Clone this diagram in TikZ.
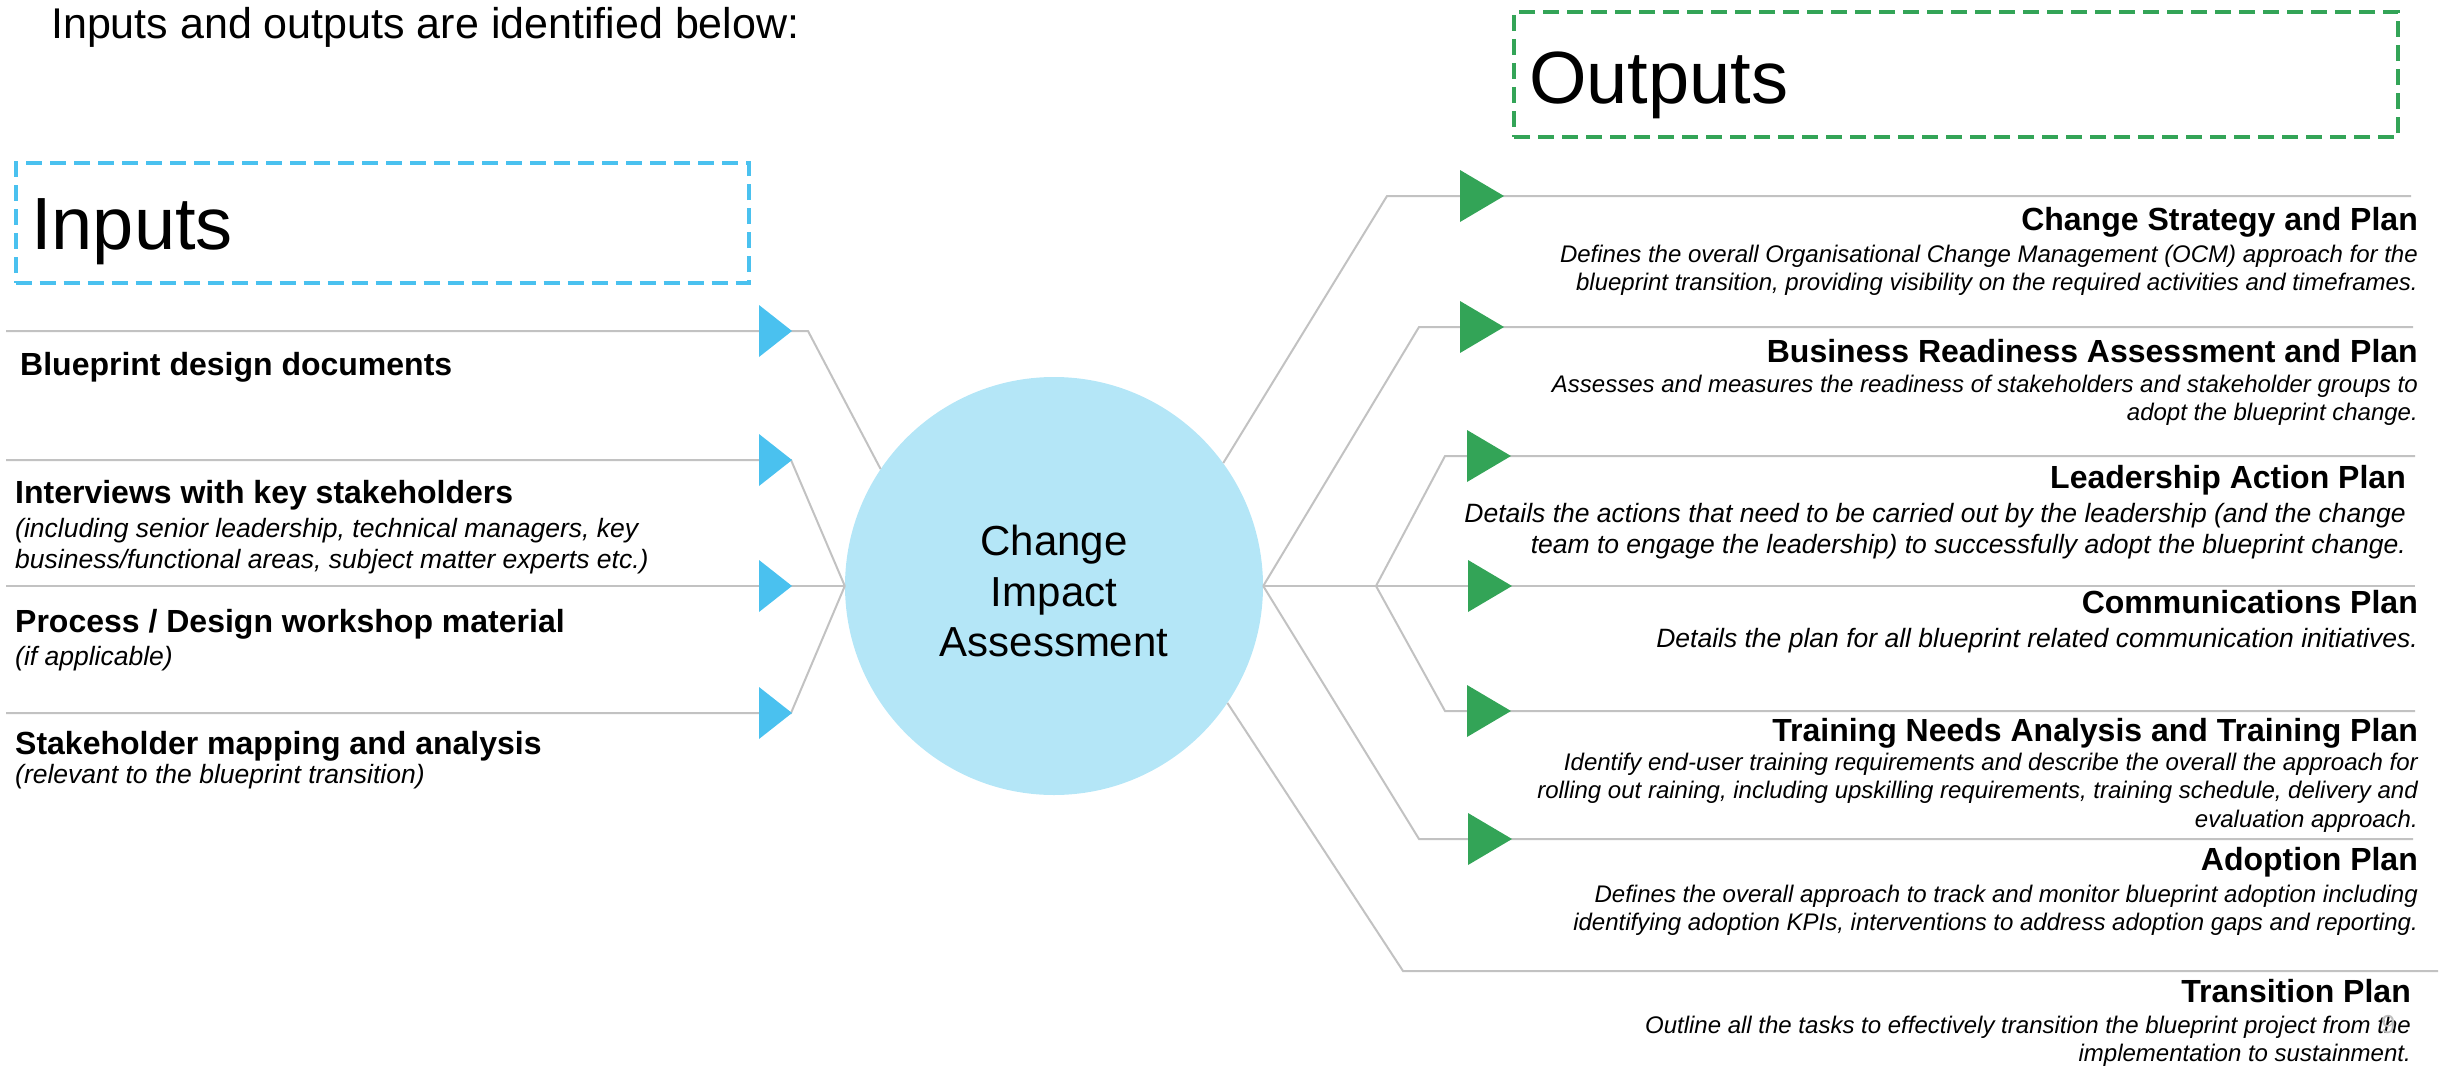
\documentclass[tikz,border=0pt]{standalone}
\usepackage{fontspec}
\setmainfont{Liberation Sans}
\definecolor{inblue}{HTML}{4AC1EF}
\definecolor{circfill}{HTML}{B4E6F7}
\definecolor{outgreen}{HTML}{33A457}
\definecolor{linegray}{HTML}{C2C2C2}
\begin{document}
\begin{tikzpicture}[x=1pt,y=-1pt,
  conn/.style={draw=linegray, line width=2pt},
  dashbox/.style={line width=4pt, dash pattern=on 16pt off 8pt, inner sep=0pt, anchor=north west},
  headL/.style={inner sep=0pt, anchor=base west, font=\fontsize{32}{36}\selectfont\bfseries},
  headR/.style={inner sep=0pt, anchor=base east, font=\fontsize{32}{36}\selectfont\bfseries},
  descL/.style={inner sep=0pt, anchor=base west, font=\fontsize{26.5}{31}\selectfont\itshape},
  descR/.style={inner sep=0pt, anchor=base east, font=\fontsize{24}{28.5}\selectfont\itshape},
  descRl/.style={inner sep=0pt, anchor=base east, font=\fontsize{26.5}{31}\selectfont\itshape},
  bigtitle/.style={inner sep=0pt, anchor=base west, font=\fontsize{74}{80}\selectfont}
]
\useasboundingbox (0,0) rectangle (2443,1065);

% heading line
\node[inner sep=0pt, anchor=base west, font=\fontsize{43}{50}\selectfont] (title) at (51,39)
  {Inputs and outputs are identified below:};

% dashed group boxes
\node[dashbox, draw=inblue, minimum width=733pt, minimum height=120pt] (inbox) at (13.5,161) {};
\node[bigtitle] (intitle) at (31,249) {Inputs};
\node[dashbox, draw=outgreen, minimum width=884pt, minimum height=125pt] (outbox) at (1512,10) {};
\node[bigtitle] (outtitle) at (1529,103) {Outputs};

% central circle
\node[circle, fill=circfill, minimum size=418pt, inner sep=0pt] (cia) at (1054,586) {};
\node[inner sep=0pt, align=center, font=\fontsize{42}{50.5}\selectfont]
  (ciatext) at ([yshift=-5pt]cia.center) {Change\\Impact\\Assessment};

% input connectors
\coordinate (a1) at (6,331);  \coordinate (a1k) at (808,331);
\coordinate (a2) at (6,460);  \coordinate (a2k) at (791,460);
\coordinate (a3) at (6,586);
\coordinate (a4) at (6,713);  \coordinate (a4k) at (791,713);
\draw[conn] (a1) -- (a1k) -- (cia.146.8);
\draw[conn] (a2) -- (a2k) -- (cia.west);
\draw[conn] (a3) -- (cia.west);
\draw[conn] (a4) -- (a4k) -- (cia.west);

% output connectors
\coordinate (hub) at (1376,586);
\coordinate (b1k) at (1387,196); \coordinate (b1) at (2411,196);
\coordinate (b2k) at (1419,327); \coordinate (b2) at (2413,327);
\coordinate (b3k) at (1445,456); \coordinate (b3) at (2415,456);
\coordinate (b4) at (2415,586);
\coordinate (b5k) at (1445,711); \coordinate (b5) at (2415,711);
\coordinate (b6k) at (1419,839); \coordinate (b6) at (2413,839);
\coordinate (b7k) at (1403,971); \coordinate (b7) at (2438,971);
\draw[conn] (cia.36.5) -- (b1k) -- (b1);
\draw[conn] (cia.east) -- (b2k) -- (b2);
\draw[conn] (hub) -- (b3k) -- (b3);
\draw[conn] (cia.east) -- (b4);
\draw[conn] (hub) -- (b5k) -- (b5);
\draw[conn] (cia.east) -- (b6k) -- (b6);
\draw[conn] (cia.-34.1) -- (b7k) -- (b7);

% arrow markers
\foreach \ty in {305,434,560,687}
  \fill[inblue] (759,\ty) -- ++(33,26) -- ++(-33,26) -- cycle;
\foreach \tx/\ty in {1460/170,1460/301,1467/430,1468/560,1467/685,1468/813}
  \fill[outgreen] (\tx,\ty) -- ++(44,26) -- ++(-44,26) -- cycle;

% inputs
\node[headL] (in1) at (20,375) {Blueprint design documents};
\node[headL] (in2) at (15,503) {Interviews with key stakeholders};
\node[descL] (in2d) at (15,537) {\parbox[t]{660pt}{(including senior leadership, technical managers, key\\business/functional areas, subject matter experts etc.)}};
\node[headL] (in3) at (15,632) {Process / Design workshop material};
\node[descL] (in3d) at (15,665) {(if applicable)};
\node[headL] (in4) at (15,754) {Stakeholder mapping and analysis};
\node[descL] (in4d) at (15,783) {(relevant to the blueprint transition)};

% outputs
\node[headR] (out1) at (2418,230) {Change Strategy and Plan};
\node[descR] (out1d) at (2418,262) {\parbox[t]{880pt}{\raggedleft Defines the overall Organisational Change Management (OCM) approach for the\\blueprint transition, providing visibility on the required activities and timeframes.}};

\node[headR] (out2) at (2418,362) {Business Readiness Assessment and Plan};
\node[descR] (out2d) at (2418,392) {\parbox[t]{890pt}{\raggedleft Assesses and measures the readiness of stakeholders and stakeholder groups to\\adopt the blueprint change.}};

\node[headR] (out3) at (2406,488) {Leadership Action Plan};
\node[descRl] (out3d) at (2406,522) {\parbox[t]{960pt}{\raggedleft Details the actions that need to be carried out by the leadership (and the change\\team to engage the leadership) to successfully adopt the blueprint change.}};

\node[headR] (out4) at (2418,613) {Communications Plan};
\node[descRl] (out4d) at (2418,647) {Details the plan for all blueprint related communication initiatives.};

\node[headR] (out5) at (2418,741) {Training Needs Analysis and Training Plan};
\node[descR] (out5d) at (2418,770) {\parbox[t]{900pt}{\raggedleft Identify end-user training requirements and describe the overall the approach for\\rolling out raining, including upskilling requirements, training schedule, delivery and\\evaluation approach.}};

\node[headR] (out6) at (2418,870) {Adoption Plan};
\node[descR] (out6d) at (2418,902) {\parbox[t]{870pt}{\raggedleft Defines the overall approach to track and monitor blueprint adoption including\\identifying adoption KPIs, interventions to address adoption gaps and reporting.}};

\node[headR] (out7) at (2411,1002) {Transition Plan};
\node[descR] (out7d) at (2411,1033) {\parbox[t]{790pt}{\raggedleft Outline all the tasks to effectively transition the blueprint project from the\\implementation to sustainment.}};

% slide number
\node[inner sep=0pt, anchor=base west, font=\fontsize{26}{30}\selectfont, text=gray!50] (pageno) at (2381,1033) {9};
\end{tikzpicture}
\end{document}
